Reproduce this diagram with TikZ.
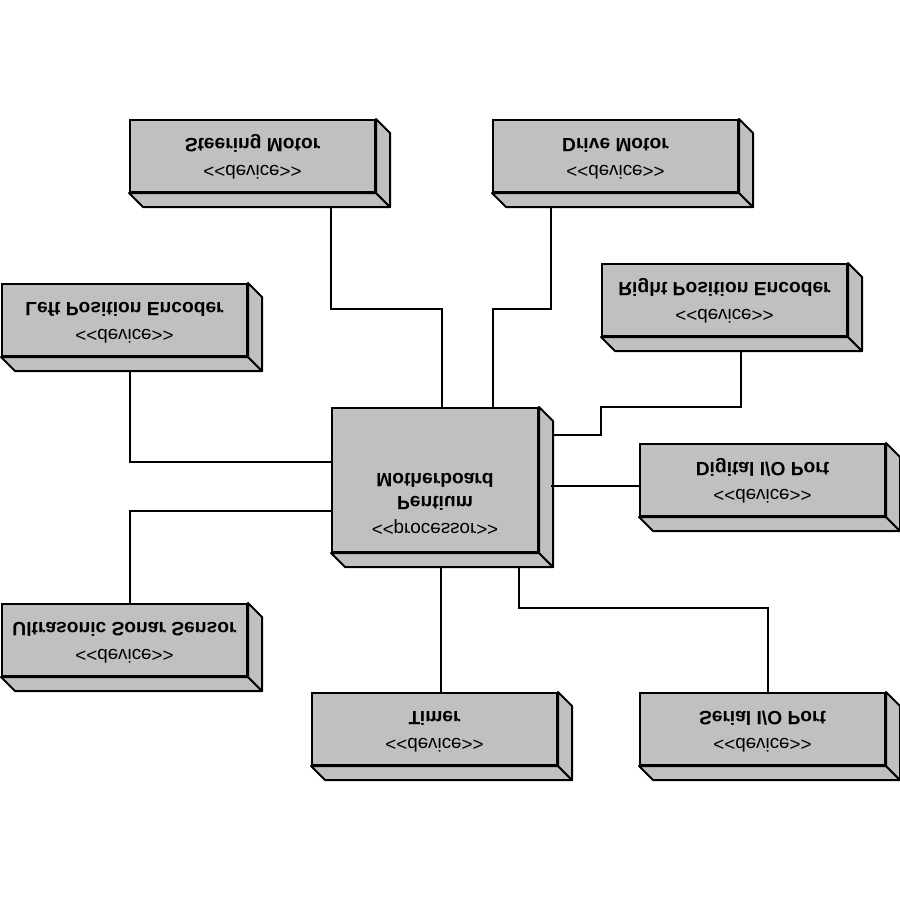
\documentclass[tikz,border=0pt]{standalone}
\usepackage{fontspec}
\setmainfont{Liberation Sans}
\usepackage{graphicx}
\usetikzlibrary{calc}
\definecolor{boxgray}{HTML}{C0C0C0}
\newcommand{\nmfont}{\bfseries\fontsize{19.2}{19.2}\selectfont}
\newcommand{\dvfont}{\fontsize{18.8}{18.8}\selectfont}
\newcommand{\stereo}[1]{<\kern0pt<#1>\kern0pt>}
\newcommand{\devlabel}[1]{\scalebox{1}[-1]{\renewcommand{\arraystretch}{0}\begin{tabular}{@{}c@{}}\dvfont\rule[-13pt]{0pt}{27pt}\stereo{device}\\\nmfont\rule[-6.6pt]{0pt}{20.6pt}#1\end{tabular}}}
\newcommand{\boxdepth}[1]{%
  \draw[depthface] (#1.south west) -- ++(14,14) -- ([shift={(14,14)}]#1.south east) -- (#1.south east) -- cycle;
  \draw[depthface] (#1.north east) -- ++(14,14) -- ([shift={(14,14)}]#1.south east) -- (#1.south east) -- cycle;}
\begin{document}
\begin{tikzpicture}[x=1pt,y=-1pt,
  box/.style={draw, line width=2pt, fill=boxgray, inner sep=0pt, minimum width=245pt, minimum height=72pt},
  depthface/.style={draw, line width=2pt, fill=boxgray, line join=round},
  conn/.style={line width=2pt}]
\useasboundingbox[fill=white] (0,0) rectangle (900,900);
% boxes
\node[box] (sm) at (252.5,156) {\devlabel{Steering Motor}};
\boxdepth{sm}
\node[box] (dm) at (615.5,156) {\devlabel{Drive Motor}};
\boxdepth{dm}
\node[box] (lp) at (124.5,320) {\devlabel{Left Position Encoder}};
\boxdepth{lp}
\node[box] (rp) at (724.5,300) {\devlabel{Right Position Encoder}};
\boxdepth{rp}
\node[box, minimum width=206pt, minimum height=144pt] (mb) at (435,480) {\scalebox{1}[-1]{\renewcommand{\arraystretch}{0}\begin{tabular}{@{}c@{}}\dvfont\rule[-13pt]{0pt}{27pt}\stereo{processor}\\\nmfont\rule[-9pt]{0pt}{23pt}Pentium\\\nmfont\rule[-50.2pt]{0pt}{64.2pt}Motherboard\end{tabular}}};
\boxdepth{mb}
\node[box] (dio) at (762.5,480) {\devlabel{Digital I/O Port}};
\boxdepth{dio}
\node[box] (us) at (124.5,640) {\devlabel{Ultrasonic Sonar Sensor}};
\boxdepth{us}
\node[box] (tm) at (434.5,729) {\devlabel{Timer}};
\boxdepth{tm}
\node[box] (sio) at (762.5,729) {\devlabel{Serial I/O Port}};
\boxdepth{sio}
% connectors
\draw[conn] (sm.south west) ++(202,14) -- ++(0,102) -| ([xshift=7pt]mb.north);
\draw[conn] (dm.south west) ++(59,14) -- ++(0,102) -| ([xshift=58pt]mb.north);
\draw[conn] (rp.south west) ++(140,14) -- ++(0,56) -- ++(-140,0) |- ([xshift=14pt,yshift=-28pt]mb.north east);
\draw[conn] ([yshift=-6pt]dio.west) -- ++(-88,0);
\draw[conn] (lp.south west) ++(129,14) |- ([yshift=18pt]mb.west);
\draw[conn] (us.north west) ++(129,0) |- ([yshift=-31pt]mb.west);
\draw[conn] (mb.south west) ++(110,14) -- ++(0,127);
\draw[conn] (mb.south west) ++(188,14) -- ++(0,41) -| ([xshift=5.5pt]sio.north);
\end{tikzpicture}
\end{document}
